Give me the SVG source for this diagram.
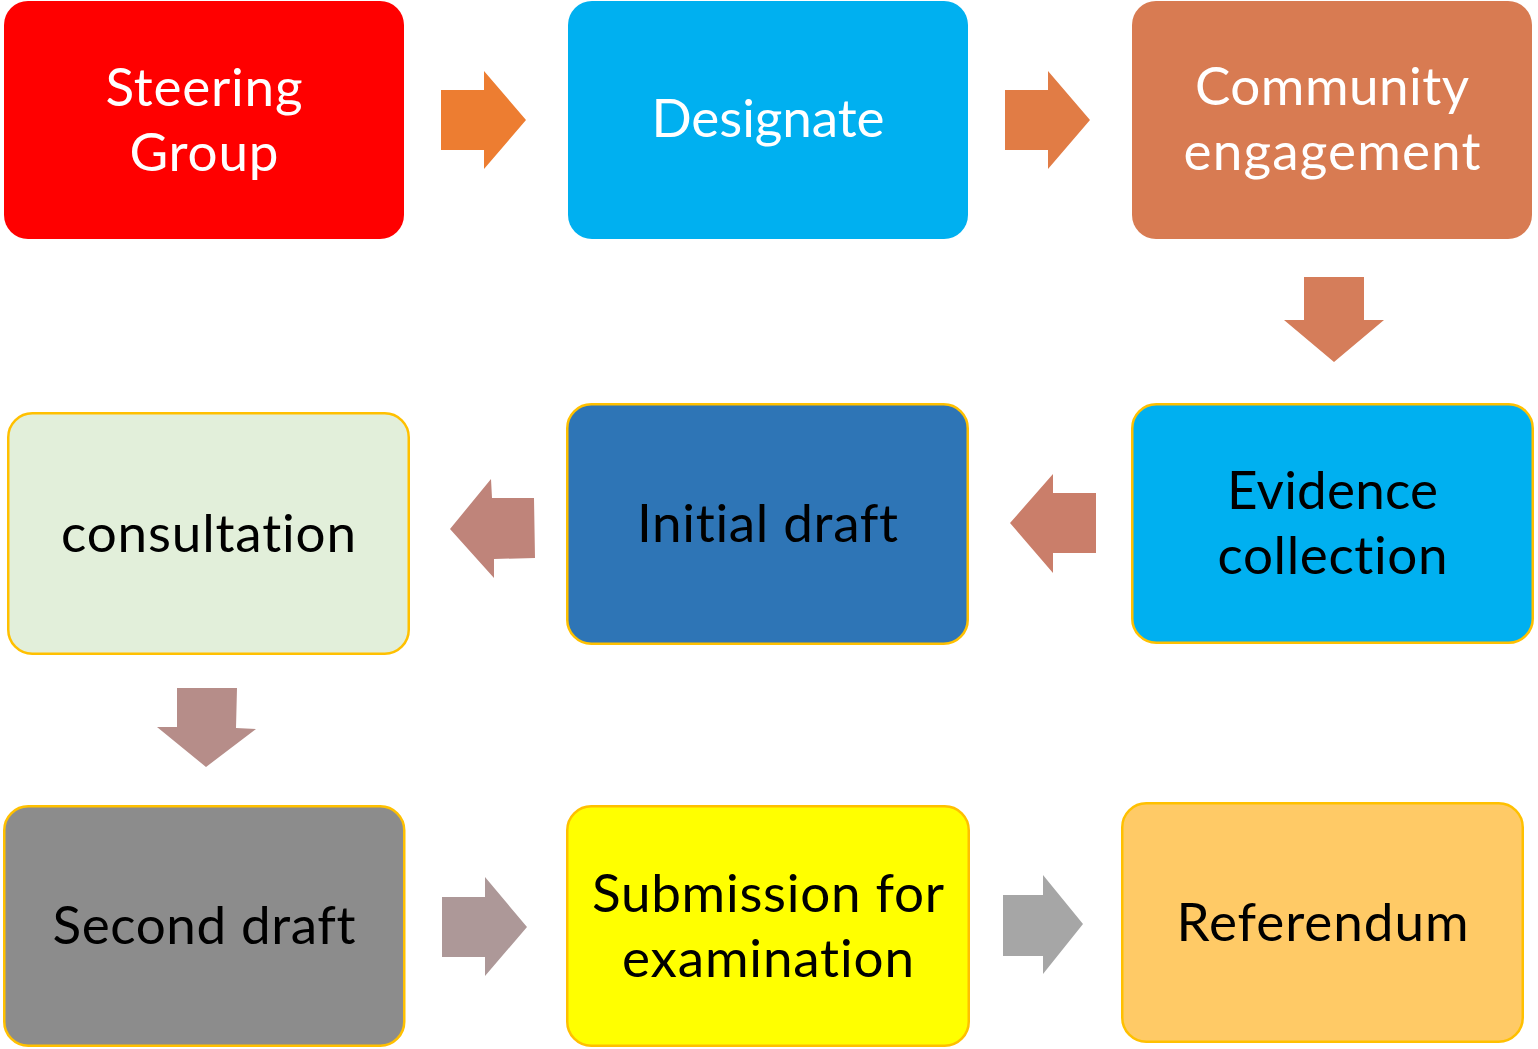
<svg xmlns="http://www.w3.org/2000/svg" width="1538" height="1049" viewBox="0 0 1538 1049">
  <style>
    .box { stroke: none; }
    .boxs { stroke: #FFC000; stroke-width: 2.5; }
    .lbl { font-family: Lato, "Open Sans", "Liberation Sans", sans-serif; font-size: 53px; text-anchor: middle; font-variant-ligatures: none; font-feature-settings: "liga" 0, "clig" 0; }
    .w { fill: #FFFFFF; }
    .k { fill: #000000; }
  </style>
  <rect width="1538" height="1049" fill="#FFFFFF"/>

  <g id="connectors">
    <path id="a1" d="M441,90 H484 V71 L526,120 L484,169 V150 H441 Z" fill="#ED7D31"/>
    <path id="a2" d="M1005,90 H1048 V71 L1090,120 L1048,169 V150 H1005 Z" fill="#E17C45"/>
    <path id="a3" d="M1304,277 H1364 V320 H1384 L1334,362 L1284,320 H1304 Z" fill="#D57D5A"/>
    <path id="a4" d="M1096,493 H1053 V474 L1010,523 L1053,573 V553 H1096 Z" fill="#CA7E6A"/>
    <path id="a5" d="M534,498 L492,498 L491,479 L450,529 L494,578 L494,559 L535,558 Z" fill="#BF847A"/>
    <path id="a6" d="M177,688 L237,688 L236,728 L256,729 L206,767 L157,727 L177,727 Z" fill="#B68D89"/>
    <path id="a7" d="M442,897 H485 V877 L527,927 L485,976 V957 H442 Z" fill="#AD9898"/>
    <path id="a8" d="M1003,895 H1043 V875 L1083,924 L1043,974 V956 H1003 Z" fill="#A6A6A6"/>
  </g>

  <g id="steering-group">
    <rect class="box" x="4" y="1" width="400" height="238" rx="24" fill="#FF0000"/>
    <text class="lbl w" x="204" y="106" textLength="197">Steering</text>
    <text class="lbl w" x="204" y="171" textLength="149">Group</text>
  </g>
  <g id="designate">
    <rect class="box" x="568" y="1" width="400" height="238" rx="24" fill="#00B0F0"/>
    <text class="lbl w" x="768" y="137" textLength="233">Designate</text>
  </g>
  <g id="community-engagement">
    <rect class="box" x="1132" y="1" width="400" height="238" rx="24" fill="#D87B52"/>
    <text class="lbl w" x="1332" y="105" textLength="274">Community</text>
    <text class="lbl w" x="1332" y="170" textLength="297">engagement</text>
  </g>
  <g id="evidence-collection">
    <rect class="boxs" x="1132.25" y="404.25" width="400.5" height="238.5" rx="24" fill="#00B0F0"/>
    <text class="lbl k" x="1332.5" y="509" textLength="211">Evidence</text>
    <text class="lbl k" x="1332.5" y="574" textLength="230">collection</text>
  </g>
  <g id="initial-draft">
    <rect class="boxs" x="567.25" y="404.25" width="400.5" height="239.5" rx="24" fill="#2E75B6"/>
    <text class="lbl k" x="767.5" y="542" textLength="261">Initial draft</text>
  </g>
  <g id="consultation">
    <rect class="boxs" x="8.25" y="413.25" width="400.5" height="240.5" rx="24" fill="#E2EFDA"/>
    <text class="lbl k" x="208.5" y="552" textLength="295">consultation</text>
  </g>
  <g id="second-draft">
    <rect class="boxs" x="4.25" y="806.25" width="400" height="239.5" rx="24" fill="#8C8C8C"/>
    <text class="lbl k" x="204" y="944" textLength="303">Second draft</text>
  </g>
  <g id="submission-for-examination">
    <rect class="boxs" x="567.25" y="806.25" width="401.5" height="239.5" rx="24" fill="#FFFF00"/>
    <text class="lbl k" x="768" y="912" textLength="352">Submission for</text>
    <text class="lbl k" x="768" y="977" textLength="292">examination</text>
  </g>
  <g id="referendum">
    <rect class="boxs" x="1122.25" y="803.25" width="400.5" height="238.5" rx="24" fill="#FFCA66"/>
    <text class="lbl k" x="1322.5" y="941" textLength="292">Referendum</text>
  </g>
</svg>
